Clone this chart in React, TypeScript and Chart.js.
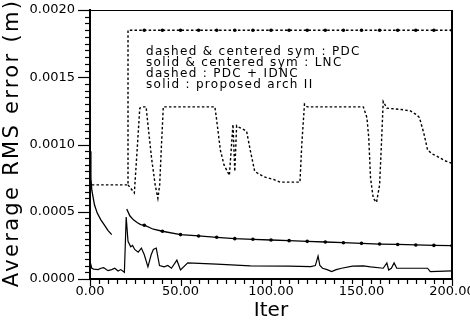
import { useEffect, useRef } from 'react';
import { Chart, registerables } from 'chart.js';

Chart.register(...registerables);

// ---- data (iteration, value) ----
const pdcIter = [1, 21, 21, 30, 40, 50, 60, 70, 80, 90, 100, 110, 120, 130, 140, 150, 160, 170, 180, 190, 200];
const pdcVal = [0.0007, 0.0007, 0.00185, 0.00185, 0.00185, 0.00185, 0.00185, 0.00185, 0.00185, 0.00185, 0.00185,
  0.00185, 0.00185, 0.00185, 0.00185, 0.00185, 0.00185, 0.00185, 0.00185, 0.00185, 0.00185];

const lncIter = [0, 0.5, 1, 2.5, 4, 6, 8, 10, 12, 16, 20.3, 22, 24, 26, 28, 30, 35, 40, 50, 60, 70, 80, 90, 100,
  110, 120, 130, 140, 150, 160, 170, 180, 190, 200];
const lncVal = [0.00095, 0.00075, 0.00066, 0.00055, 0.00049, 0.00044, 0.0004, 0.00036, 0.00033, null, 0.00052,
  0.00047, 0.00044, 0.00042, 0.000405, 0.0004, 0.00037, 0.000355, 0.00033, 0.00032, 0.00031, 0.0003, 0.000295,
  0.00029, 0.000285, 0.00028, 0.000275, 0.00027, 0.000265, 0.00026, 0.000257, 0.000253, 0.00025, 0.000248];

const idncIter = [21, 24.5, 26, 27.5, 29, 31, 32, 34, 36, 37.5, 38.5, 39.5, 40.5, 69, 70, 72, 74, 77, 79, 80, 81,
  82, 86.5, 88.5, 91, 96, 101.5, 105, 116, 117, 118.5, 120, 151, 153, 154, 155, 156.5, 158.3, 160, 161, 162, 164,
  172, 177, 180.5, 182, 184.5, 186.5, 189, 192, 196, 200];
const idncVal = [0.0007, 0.00064, 0.00095, 0.00127, 0.00128, 0.00128, 0.00115, 0.0009, 0.0007, 0.0006, 0.0007,
  0.001, 0.00128, 0.00128, 0.00118, 0.00096, 0.00085, 0.00077, 0.00115, 0.0008, 0.00114, 0.00113, 0.0011,
  0.00096, 0.0008, 0.00076, 0.00074, 0.00072, 0.00072, 0.001, 0.0013, 0.00128, 0.00128, 0.0012, 0.00105,
  0.00075, 0.0006, 0.00057, 0.0007, 0.001, 0.00132, 0.00127, 0.00126, 0.00125, 0.00122, 0.0012, 0.00108,
  0.00096, 0.00093, 0.00091, 0.00088, 0.00086];

const archIter = [0, 1, 2, 4.5, 6, 7.5, 9, 10, 12, 13.7, 15.5, 17, 19, 20, 21, 22.5, 23.5, 24.7, 26.6, 28.4, 30,
  32, 33.8, 35, 36.6, 38.4, 41, 43, 45, 48, 50, 54, 70, 88.6, 110, 122, 124.5, 126, 127, 128.5, 131, 133.5, 136,
  139, 145, 151, 155, 162, 164, 165, 166.5, 168, 169.5, 186.5, 188, 200];
const archVal = [0.00013, 0.00008, 0.000074, 0.00007, 0.00008, 0.000085, 0.00007, 0.000062, 0.00007, 0.00008,
  0.00006, 0.00007, 0.00005, 0.00046, 0.00028, 0.00024, 0.00025, 0.00022, 0.0002, 0.00023, 0.00018, 0.00009,
  0.00018, 0.00022, 0.00023, 0.0001, 0.00009, 0.0001, 0.00008, 0.00014, 0.000067, 0.00012, 0.00011, 0.000097,
  0.000095, 0.000092, 0.0001, 0.00017, 0.0001, 0.00008, 0.00007, 0.000055, 0.00007, 0.00008, 0.000095,
  0.000097, 0.00009, 0.00008, 0.00012, 0.000067, 0.00008, 0.00012, 0.00008, 0.00008, 0.000055, 0.00006];

const xTickLabels = ['0.00', '50.00', '100.00', '150.00', '200.00'];
const yTickLabels = ['0.0000', '0.0005', '0.0010', '0.0015', '0.0020'];
const legendLines = [
  'dashed & centered sym : PDC',
  'solid & centered sym : LNC',
  'dashed : PDC + IDNC',
  'solid : proposed arch II',
];
const xTitle = 'Iter';
const yTitle = 'Average RMS error (m)';

const FONT = "'DejaVu Sans', sans-serif";

const toPoints = (xs: number[], ys: (number | null)[]) => xs.map((x, i) => ({ x, y: ys[i] }));

const decor = {
  id: 'decor',
  afterDraw(chart: any) {
    const { ctx, chartArea: a, scales } = chart;
    const xs = scales.x;
    const ys = scales.y;
    ctx.save();
    ctx.strokeStyle = '#000';
    ctx.fillStyle = '#000';
    ctx.lineWidth = 1.2;
    // y ticks (major + minor)
    for (let i = 0; i <= 40; i++) {
      const py = Math.round(ys.getPixelForValue(i * 0.00005)) + 0.5;
      const len = i % 10 === 0 ? 12 : 5;
      ctx.beginPath();
      ctx.moveTo(a.left - len, py);
      ctx.lineTo(a.left, py);
      ctx.stroke();
    }
    // x ticks
    for (let i = 0; i <= 40; i++) {
      const px = Math.round(xs.getPixelForValue(i * 5)) + 0.5;
      const len = i % 10 === 0 ? 7 : 5;
      ctx.beginPath();
      ctx.moveTo(px, a.bottom);
      ctx.lineTo(px, a.bottom + len);
      ctx.stroke();
    }
    // frame top / right
    ctx.lineWidth = 1;
    ctx.beginPath();
    ctx.moveTo(a.left, a.top + 0.5);
    ctx.lineTo(a.right, a.top + 0.5);
    ctx.stroke();
    ctx.lineWidth = 2;
    ctx.beginPath();
    ctx.moveTo(a.right, a.top);
    ctx.lineTo(a.right, a.bottom);
    ctx.stroke();

    // legend text block
    ctx.font = `12px ${FONT}`;
    (ctx as any).letterSpacing = '1.3px';
    ctx.textAlign = 'left';
    ctx.textBaseline = 'middle';
    legendLines.forEach((t, i) => ctx.fillText(t, 146, 52 + i * 11));

    // y title
    ctx.font = `21px ${FONT}`;
    (ctx as any).letterSpacing = '2.3px';
    ctx.textAlign = 'center';
    ctx.translate(13, 143);
    ctx.rotate(-Math.PI / 2);
    ctx.fillText(yTitle, 0, 0);
    ctx.restore();
  },
};

export default function App() {
  const ref = useRef<HTMLCanvasElement | null>(null);

  useEffect(() => {
    document.body.style.margin = '0';
    const canvas = ref.current;
    if (!canvas) return;
    const lineBase = {
      borderColor: '#000',
      backgroundColor: '#000',
      pointBackgroundColor: '#000',
      pointBorderWidth: 0,
      pointHoverRadius: 0,
      tension: 0,
      fill: false,
      spanGaps: false,
    };
    const chart = new Chart(canvas, {
      type: 'line',
      data: {
        datasets: [
          {
            ...lineBase,
            label: 'PDC',
            data: toPoints(pdcIter, pdcVal),
            borderWidth: 1.4,
            borderDash: [2.5, 2.2],
            pointRadius: (c: any) => (c.raw && c.raw.y > 0.001 && c.raw.x % 10 === 0 ? 1.8 : 0),
          },
          {
            ...lineBase,
            label: 'LNC',
            data: toPoints(lncIter, lncVal),
            borderWidth: 1.3,
            pointRadius: (c: any) => (c.raw && c.raw.x >= 30 && c.raw.x % 10 === 0 ? 1.8 : 0),
          },
          {
            ...lineBase,
            label: 'PDC + IDNC',
            data: toPoints(idncIter, idncVal),
            borderWidth: 1.4,
            borderDash: [2.5, 2.2],
            pointRadius: 0,
          },
          {
            ...lineBase,
            label: 'proposed arch II',
            data: toPoints(archIter, archVal),
            borderWidth: 1.2,
            pointRadius: 0,
          },
        ],
      },
      options: {
        responsive: false,
        animation: false,
        events: [],
        devicePixelRatio: 1,
        layout: { padding: { left: 0, right: 18, top: 10, bottom: 0 } },
        plugins: { legend: { display: false }, tooltip: { enabled: false } },
        scales: {
          x: {
            type: 'linear',
            min: 0,
            max: 200,
            ticks: {
              stepSize: 50,
              padding: 5,
              color: '#000',
              font: { family: FONT, size: 13 },
              maxRotation: 0,
              callback: (_v: any, i: number) => xTickLabels[i],
            },
            grid: { display: true, drawOnChartArea: false, drawTicks: false },
            border: { display: true, color: '#000', width: 2 },
            title: {
              display: true,
              text: xTitle,
              color: '#000',
              font: { family: FONT, size: 20 },
              padding: { top: 0, bottom: 2 },
            },
            afterFit: (s: any) => {
              s.height = 46;
              s.paddingLeft = 0;
              s.paddingRight = 0;
            },
          },
          y: {
            type: 'linear',
            min: 0,
            max: 0.002,
            ticks: {
              stepSize: 0.0005,
              padding: 15,
              color: '#000',
              font: { family: FONT, size: 13 },
              callback: (_v: any, i: number) => yTickLabels[i],
            },
            grid: { display: true, drawOnChartArea: false, drawTicks: false },
            border: { display: true, color: '#000', width: 2 },
            afterFit: (s: any) => {
              s.width = 90;
              s.paddingTop = 0;
              s.paddingBottom = 0;
            },
          },
        },
      },
      plugins: [decor],
    } as any);
    return () => chart.destroy();
  }, []);

  return (
    <div style={{ width: 470, height: 325, background: '#fff' }}>
      <canvas ref={ref} width={470} height={325} style={{ display: 'block', width: 470, height: 325 }} />
    </div>
  );
}
